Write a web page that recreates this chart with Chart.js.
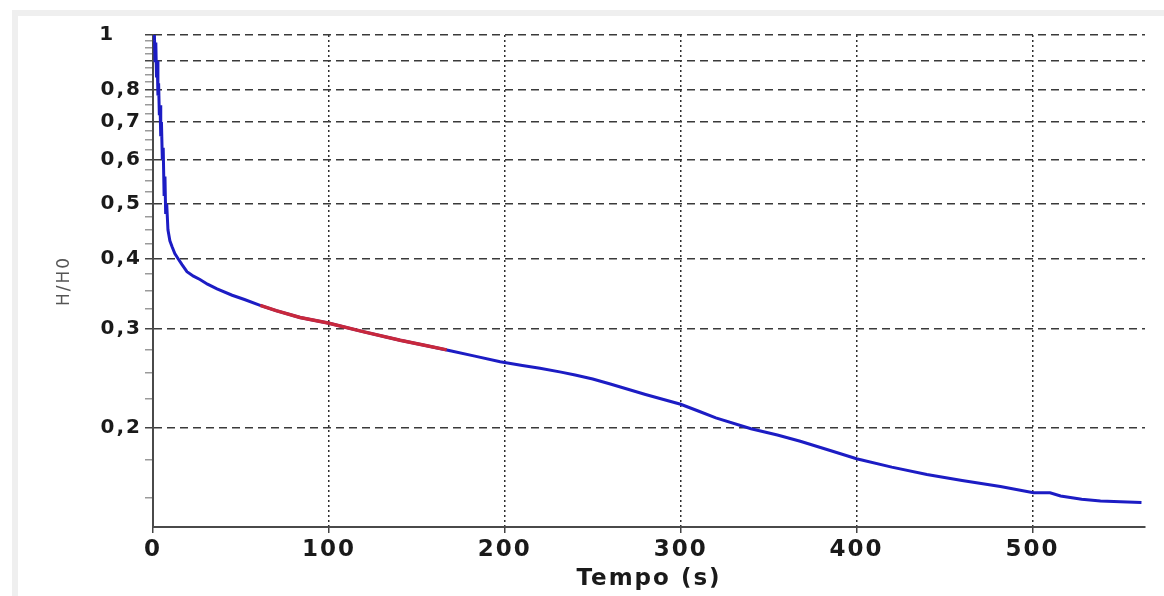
<!DOCTYPE html>
<html>
<head>
<meta charset="utf-8">
<title>H/H0 x Tempo</title>
<script src="https://cdn.jsdelivr.net/npm/chart.js@4/dist/chart.umd.min.js"></script>
<style>
  html, body { margin: 0; padding: 0; background: #fff; }
  #wrap { position: relative; width: 1164px; height: 596px; overflow: hidden; }
  #frame {
    position: absolute; left: 12px; top: 10px; width: 1200px; height: 580px;
    border-top: 6px solid #efefef; border-left: 6px solid #efefef; border-bottom: 6px solid #efefef;
  }
  #chart { position: absolute; left: 0; top: 0; }
</style>
</head>
<body>
<div id="wrap">
  <div id="frame"></div>
  <canvas id="chart" width="1164" height="596"></canvas>
</div>
<script>
// Ensaio de carga variável: nível relativo H/H0 ao longo do tempo
const tempos = [0, 0.4, 0.8, 1.2, 1.6, 2.0, 2.4, 2.8, 3.2, 3.6, 4.0, 4.4, 4.8, 5.3, 5.8, 6.3, 6.8, 7.2, 7.8, 8.5, 9.6,
  10.8, 12.4, 14.2, 16.5, 19.3, 23, 26.7, 31, 36.4, 45, 52, 60.9, 70, 83.6, 99.5, 120, 140.5, 155,
  169, 183, 197.4, 210, 220, 232, 240, 250, 260, 280, 300, 310, 320, 340, 355, 368, 385, 400, 420,
  440, 460, 481.8, 500.6, 510, 516, 528, 538.7, 550, 562];
const razoes = [1.0, 0.98, 1.0, 0.9, 0.97, 0.84, 0.9, 0.78, 0.82, 0.72, 0.75, 0.66, 0.7, 0.6, 0.63, 0.52, 0.56, 0.48, 0.5, 0.45, 0.43,
  0.42, 0.408, 0.4, 0.39, 0.379, 0.372, 0.367, 0.36, 0.353, 0.344, 0.338, 0.33, 0.323, 0.314, 0.307, 0.296, 0.286, 0.28,
  0.274, 0.268, 0.262, 0.258, 0.255, 0.251, 0.248, 0.244, 0.239, 0.229, 0.22, 0.214, 0.208, 0.199, 0.194, 0.189, 0.182, 0.176, 0.17,
  0.165, 0.161, 0.157, 0.153, 0.153, 0.151, 0.149, 0.148, 0.1475, 0.147];

// trecho usado no ajuste (vermelho)
const temposAjuste = [61, 70, 83.6, 99.5, 120, 140.5, 155, 167];
const razoesAjuste = [0.33, 0.323, 0.314, 0.307, 0.296, 0.286, 0.28, 0.275];

const xTicks = [0, 100, 200, 300, 400, 500];
const xLabels = ['0', '100', '200', '300', '400', '500'];
const yTicks = [0.2, 0.3, 0.4, 0.5, 0.6, 0.7, 0.8, 0.9, 1];
const yLabels = ['0,2', '0,3', '0,4', '0,5', '0,6', '0,7', '0,8', '', '1   '];

// marcas secundárias a cada 0,025
const yMinor = [];
for (let v = 0.15; v < 1; v += 0.025) {
  const r = Math.round(v * 1000) / 1000;
  if (!yTicks.some(t => Math.abs(t - r) < 1e-6)) yMinor.push(r);
}

const toPoints = (xs, ys) => xs.map((x, i) => ({ x, y: ys[i] }));

Chart.defaults.font.family = "'DejaVu Sans', sans-serif";

// letras um pouco afastadas, como no gráfico original
const spacing = {
  id: 'spacing',
  beforeUpdate(chart) { chart.ctx.letterSpacing = '2px'; },
  beforeDraw(chart) { chart.ctx.letterSpacing = '2px'; }
};

new Chart(document.getElementById('chart'), {
  type: 'line',
  data: {
    datasets: [
      {
        data: toPoints(temposAjuste, razoesAjuste),
        borderColor: '#c8283c',
        borderWidth: 3.5,
        pointRadius: 0,
        order: 1
      },
      {
        data: toPoints(tempos, razoes),
        borderColor: '#1c1cc4',
        borderWidth: 3,
        pointRadius: 0,
        order: 2
      }
    ]
  },
  options: {
    responsive: false,
    animation: false,
    layout: { padding: { top: 35, right: 19, left: 0, bottom: 0 } },
    plugins: { legend: { display: false }, tooltip: { enabled: false } },
    scales: {
      x: {
        type: 'linear',
        min: 0,
        max: 564,
        afterBuildTicks: s => { s.ticks = xTicks.map(v => ({ value: v })); },
        afterFit: s => { s.height = 69; },
        ticks: {
          autoSkip: false,
          maxRotation: 0,
          padding: 3,
          color: '#1a1a1a',
          font: { size: 23, weight: 'bold' },
          callback: (v, i) => xLabels[i]
        },
        grid: { color: '#2e2e2e', lineWidth: 1.5, tickLength: 6, tickColor: '#444' },
        border: { color: '#4a4a4a', width: 2, dash: [2, 3] },
        title: {
          display: true,
          text: 'Tempo (s)',
          color: '#1a1a1a',
          font: { size: 23, weight: 'bold' },
          padding: { top: 0, bottom: 3 }
        }
      },
      y: {
        type: 'logarithmic',
        min: 0.133,
        max: 1,
        afterBuildTicks: s => {
          const maj = yTicks.map(v => ({ value: v, major: true }));
          const min = yMinor.map(v => ({ value: v, major: false }));
          s.ticks = maj.concat(min).sort((a, b) => a.value - b.value);
        },
        afterFit: s => { s.width = 153; },
        ticks: {
          autoSkip: false,
          padding: 3,
          color: '#1a1a1a',
          font: { size: 20, weight: 'bold' },
          callback: function (v) {
            const i = yTicks.findIndex(t => Math.abs(t - v) < 1e-6);
            return i < 0 ? '' : yLabels[i];
          }
        },
        grid: {
          color: c => (c.tick && c.tick.major ? '#3a3a3a' : 'transparent'),
          lineWidth: 1.5,
          tickLength: 8,
          tickColor: c => (c.tick && c.tick.major ? '#444' : '#9a9a9a')
        },
        border: { color: '#4a4a4a', width: 2, dash: [8, 5] },
        title: {
          display: true,
          text: 'H/H0',
          color: '#555',
          font: { size: 17, weight: 'normal' },
          padding: { top: 54, bottom: 0 }
        }
      }
    }
  },
  plugins: [spacing]
});
</script>
</body>
</html>
